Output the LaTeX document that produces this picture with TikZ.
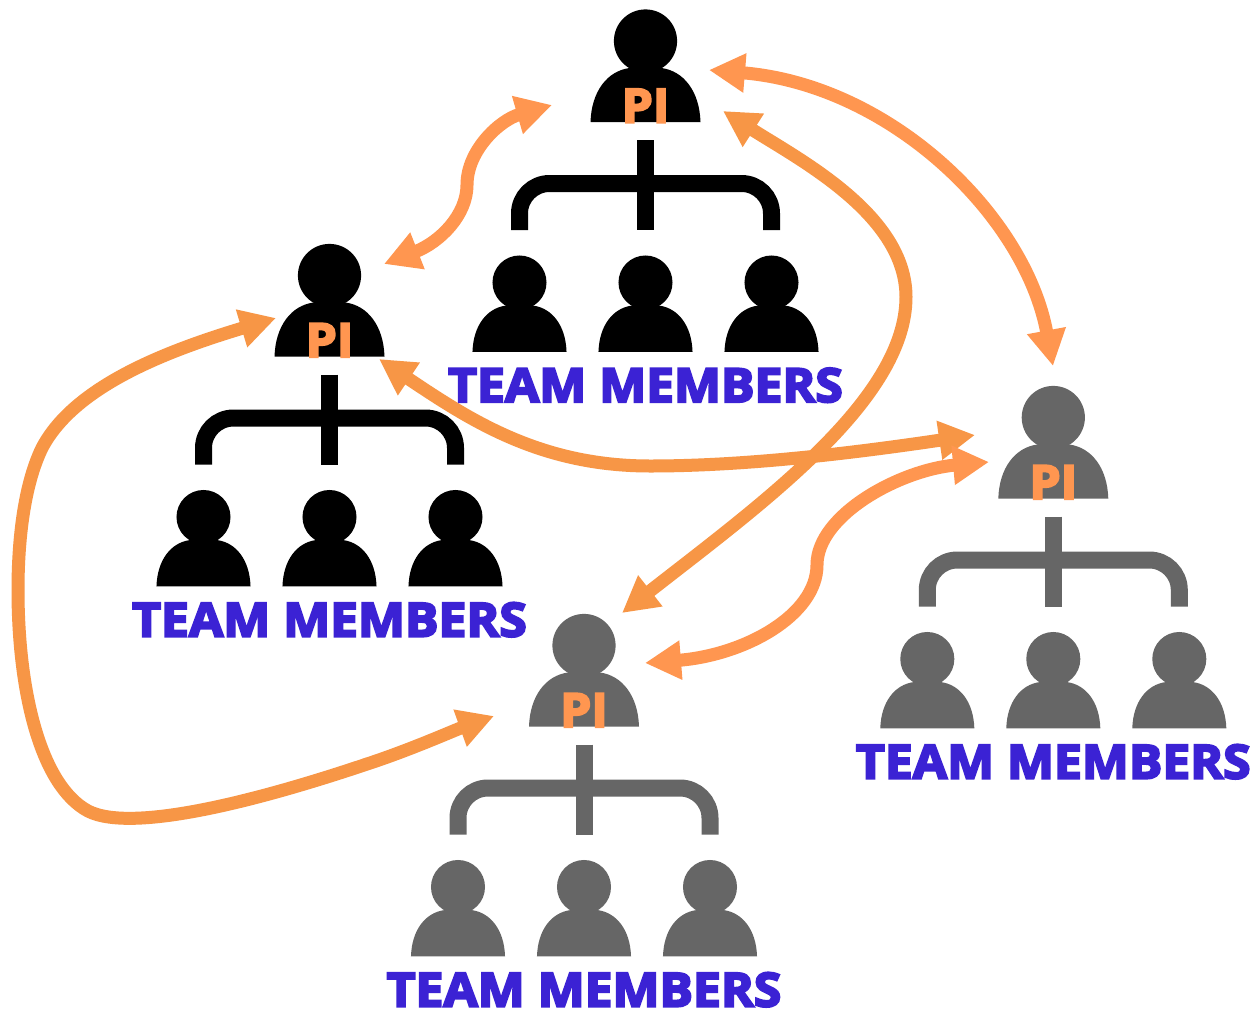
\documentclass[tikz,border=0pt]{standalone}
\usepackage{fontspec}
\newfontfamily\labelfont[BoldFeatures={FakeBold=4.5,FakeStretch=1.06}]{Open Sans}
\usetikzlibrary{arrows.meta,backgrounds}
\definecolor{blueText}{HTML}{3B22D4}
\definecolor{orangeLight}{HTML}{FF9650}
\definecolor{orangeDark}{HTML}{F79646}
\definecolor{grayFig}{HTML}{666666}
\tikzset{
  x=1pt,y=-1pt,
  link/.style={line width=13pt,{Triangle[length=36pt,width=37pt]}-{Triangle[length=36pt,width=37pt]}},
  linkA/.style={link,draw=orangeLight,color=orangeLight},
  linkB/.style={link,draw=orangeDark,color=orangeDark},
  labelText/.style={inner sep=0pt,anchor=base,font=\labelfont\bfseries\fontsize{47}{47}\selectfont},
  person/.pic={
    \fill[pic actions] (0,0) circle[radius=31.6];
    \fill[pic actions] (-55,81) .. controls (-54,50) and (-38,30) .. (-16,27) -- (16,27) .. controls (38,30) and (54,50) .. (55,81) -- cycle;
  },
  team/.pic={
    \pic[fill=#1] {person};
    \draw[#1,line width=17pt,rounded corners=30pt] (-126,189) -- (-126,142.5) -- (126,142.5) -- (126,189);
    \draw[#1,line width=17pt] (0,99) -- (0,189);
    \pic[fill=#1,scale=.855] at (-126,241.5) {person};
    \pic[fill=#1,scale=.855] at (0,241.5) {person};
    \pic[fill=#1,scale=.855] at (126,241.5) {person};
    \node[labelText,text=orangeLight] (-pi) at (0,81.5) {PI};
    \node[labelText,text=blueText] (-members) at (0,361) {TEAM MEMBERS};
  }
}
\begin{document}
\begin{tikzpicture}
\useasboundingbox (0,0) rectangle (1251,1010);
\pic (top) at (645.5,41) {team=black};
\pic (left) at (329.5,275.5) {team=black};
\pic (right) at (1053.3,417.5) {team=grayFig};
\pic (bottom) at (584,645.5) {team=grayFig};
\coordinate (aL) at (384,264);
\coordinate (aT) at (552,105);
\coordinate (bT) at (709,70);
\coordinate (bR) at (1053,366);
\coordinate (cT) at (723,111);
\coordinate (cB) at (622,613);
\coordinate (dL) at (379,359);
\coordinate (dR) at (975,435);
\coordinate (eR) at (989,462);
\coordinate (eB) at (645,663);
\coordinate (fL) at (276,318);
\coordinate (fB) at (494,716);
\begin{scope}[on background layer]
\fill[white] (0,0) rectangle (1251,1010);
\draw[linkA] (aL) .. controls (440,242) and (467,215) .. (467,185) .. controls (467,150) and (500,120) .. (aT);
\draw[linkA] (bT) .. controls (890,85) and (1025,215) .. (bR);
\draw[linkB] (dL) .. controls (470,420) and (540,466) .. (650,466) .. controls (750,466) and (860,452) .. (dR);
\draw[linkB] (cT) .. controls (800,160) and (906,215) .. (906,297) .. controls (906,400) and (760,505) .. (cB);
\draw[linkA] (eR) .. controls (900,470) and (817,515) .. (817,565) .. controls (817,615) and (745,655) .. (eB);
\draw[linkB] (fL) .. controls (170,350) and (75,385) .. (42,448) .. controls (24,485) and (18,540) .. (18,590) .. controls (18,690) and (40,785) .. (88,811) .. controls (135,835) and (275,795) .. (367,764) .. controls (410,750) and (455,730) .. (fB);
\end{scope}
\end{tikzpicture}
\end{document}
